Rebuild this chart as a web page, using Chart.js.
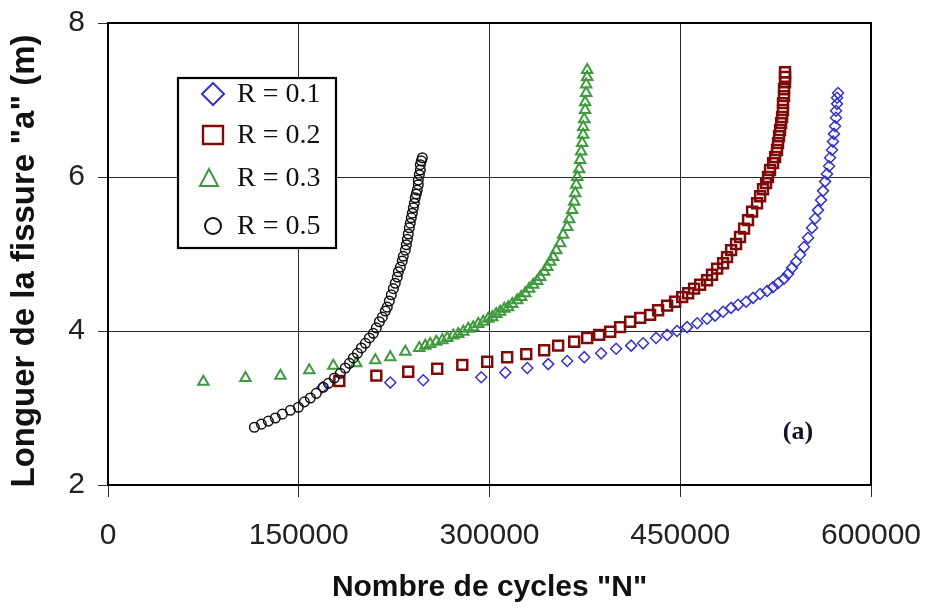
<!DOCTYPE html>
<html>
<head>
<meta charset="utf-8">
<script src="https://cdn.jsdelivr.net/npm/chart.js@4.4.1/dist/chart.umd.min.js"></script>
<style>
  html, body { margin: 0; padding: 0; background: #fff; }
  #c { display: block; }
</style>
</head>
<body>
<canvas id="c" width="926" height="608"></canvas>
<script>
// Crack length a (m) versus number of cycles N for four load ratios R
const seriesLabels = ['R = 0.1', 'R = 0.2', 'R = 0.3', 'R = 0.5'];

const r01N = [168600, 222000, 247900, 293500, 312400, 329700, 346200, 361100, 374500, 387800,
  399600, 411400, 420800, 431000, 439700, 447500, 455400, 463300, 471100, 477400,
  483700, 490000, 495500, 501800, 507300, 512800, 518300, 523000, 526900, 531600,
  534800, 537900, 541100, 544200, 547300, 550500, 553600, 556000, 558300, 560700,
  562300, 563900, 565400, 567000, 567800, 569300, 570100, 570900, 571700, 572500,
  572500, 573300, 573300, 574100];
const r01A = [3.27, 3.33, 3.36, 3.40, 3.46, 3.52, 3.57, 3.61, 3.66, 3.71,
  3.77, 3.81, 3.84, 3.91, 3.95, 4.00, 4.05, 4.10, 4.16, 4.20,
  4.25, 4.30, 4.34, 4.38, 4.43, 4.48, 4.52, 4.57, 4.62, 4.68,
  4.74, 4.82, 4.90, 4.99, 5.09, 5.21, 5.34, 5.46, 5.57, 5.70,
  5.82, 5.94, 6.04, 6.14, 6.25, 6.35, 6.46, 6.56, 6.66, 6.77,
  6.86, 6.95, 7.03, 7.09];

const r02N = [181900, 211000, 236100, 258900, 278600, 298200, 313900, 328900, 343000, 354000,
  366600, 376800, 386200, 394900, 402700, 410600, 418500, 426300, 432600, 439700,
  446000, 451500, 456200, 460900, 465600, 471100, 475000, 479000, 483700, 486800,
  490000, 493900, 497000, 500200, 503300, 506500, 510400, 512800, 515100, 517500,
  519000, 520600, 523000, 524600, 526100, 526900, 527700, 528500, 529300, 530100,
  530800, 530800, 531600, 531600, 532400, 532400, 532400];
const r02A = [3.35, 3.42, 3.47, 3.51, 3.56, 3.60, 3.66, 3.70, 3.75, 3.81,
  3.86, 3.91, 3.95, 3.99, 4.05, 4.12, 4.17, 4.21, 4.27, 4.33,
  4.38, 4.44, 4.49, 4.55, 4.60, 4.66, 4.73, 4.81, 4.88, 4.96,
  5.05, 5.13, 5.22, 5.33, 5.44, 5.55, 5.66, 5.75, 5.84, 5.92,
  6.00, 6.09, 6.18, 6.26, 6.35, 6.44, 6.53, 6.61, 6.70, 6.78,
  6.87, 6.96, 7.05, 7.14, 7.23, 7.30, 7.36];

const r03N = [75000, 108100, 135600, 158300, 177200, 195300, 210200, 222000, 233800, 244800,
  249500, 253400, 258200, 262900, 266800, 271500, 275400, 279400, 283300, 287200,
  291200, 295100, 299000, 302200, 305300, 308400, 311600, 314700, 317900, 321800,
  324900, 328100, 331200, 334400, 337500, 339900, 343000, 345400, 347700, 350100,
  352500, 355600, 357900, 361100, 362700, 365000, 366600, 367400, 368200, 369000,
  370500, 371300, 372100, 372900, 373700, 373700, 374500, 375200, 375200, 376000,
  376000, 376800, 376800];
const r03A = [3.34, 3.39, 3.42, 3.49, 3.55, 3.58, 3.62, 3.66, 3.73, 3.78,
  3.81, 3.83, 3.86, 3.88, 3.91, 3.94, 3.96, 3.99, 4.03, 4.05,
  4.09, 4.12, 4.16, 4.18, 4.22, 4.25, 4.29, 4.31, 4.35, 4.40,
  4.44, 4.49, 4.55, 4.60, 4.65, 4.70, 4.77, 4.83, 4.90, 4.96,
  5.05, 5.14, 5.25, 5.35, 5.45, 5.57, 5.68, 5.79, 5.90, 6.00,
  6.10, 6.22, 6.33, 6.44, 6.55, 6.65, 6.75, 6.87, 6.97, 7.09,
  7.20, 7.30, 7.39];

const r05N = [115100, 120600, 126100, 131600, 137100, 143400, 149700, 154400, 159100, 163800,
  169300, 173300, 178000, 182700, 186600, 189800, 192900, 196100, 199200, 202400,
  205500, 208600, 211000, 213400, 215700, 218100, 219600, 221200, 222800, 224400,
  225900, 227500, 228300, 229900, 231400, 232200, 233800, 234600, 235400, 236100,
  236900, 237700, 238500, 239300, 240100, 240900, 241600, 242400, 243200, 244000,
  244000, 244800, 245600, 245600, 246400, 247200];
const r05A = [2.75, 2.79, 2.83, 2.87, 2.92, 2.97, 3.01, 3.08, 3.13, 3.19,
  3.27, 3.32, 3.39, 3.45, 3.52, 3.58, 3.65, 3.71, 3.78, 3.84,
  3.91, 3.97, 4.04, 4.12, 4.18, 4.26, 4.31, 4.39, 4.47, 4.55,
  4.62, 4.70, 4.77, 4.83, 4.91, 4.97, 5.05, 5.12, 5.19, 5.26,
  5.34, 5.40, 5.47, 5.53, 5.60, 5.66, 5.73, 5.78, 5.83, 5.90,
  5.96, 6.03, 6.09, 6.16, 6.21, 6.25];

const xTicks = [0, 150000, 300000, 450000, 600000];
const yTicks = [2, 4, 6, 8];

const xTitle = 'Nombre de cycles "N"';
const yTitle = 'Longuer de la fissure "a" (m)';
const panelTag = '(a)';

const toPoints = (ns, as) => ns.map((n, i) => ({ x: n, y: as[i] }));

const styles = [
  { color: '#3434c8', pointStyle: 'rectRot', radius: 5.5, width: 1.5 },
  { color: '#7e0a0a', pointStyle: 'rect', radius: 7, width: 2.5 },
  { color: '#3f9a3f', pointStyle: 'triangle', radius: 6, width: 2 },
  { color: '#111111', pointStyle: 'circle', radius: 4.8, width: 1.5 }
];
const seriesData = [
  toPoints(r01N, r01A),
  toPoints(r02N, r02A),
  toPoints(r03N, r03A),
  toPoints(r05N, r05A)
];

const datasets = seriesData.map((pts, i) => ({
  label: seriesLabels[i],
  data: pts,
  showLine: false,
  pointStyle: styles[i].pointStyle,
  pointRadius: styles[i].radius,
  pointBorderWidth: styles[i].width,
  pointBorderColor: styles[i].color,
  pointBackgroundColor: 'rgba(255,255,255,0)',
  order: 4 - i
}));

const sansFamily = '"Liberation Sans", Arial, sans-serif';

// Frame, vertical axis title, boxed legend and panel tag
const decorPlugin = {
  id: 'decor',
  afterDatasetsDraw(chart) {
    const ctx = chart.ctx;
    const a = chart.chartArea;
    ctx.save();
    ctx.strokeStyle = '#000';
    ctx.lineWidth = 2;
    ctx.strokeRect(a.left, a.top, a.right - a.left, a.bottom - a.top);

    // vertical axis title
    ctx.save();
    ctx.translate(25, 261);
    ctx.rotate(-Math.PI / 2);
    ctx.fillStyle = '#111';
    ctx.font = 'bold 33px ' + sansFamily;
    ctx.textAlign = 'center';
    ctx.textBaseline = 'middle';
    ctx.fillText(yTitle, 0, 0);
    ctx.restore();

    // legend box
    const bx = 178, by = 78, bw = 158, bh = 170;
    ctx.fillStyle = '#fff';
    ctx.fillRect(bx, by, bw, bh);
    ctx.lineWidth = 2.2;
    ctx.strokeStyle = '#000';
    ctx.strokeRect(bx, by, bw, bh);

    const rows = [94, 135, 178, 226];
    chart.data.datasets.forEach((ds, i) => {
      const y = rows[i];
      const mx = 213;
      ctx.strokeStyle = styles[i].color;
      ctx.lineWidth = 2;
      ctx.beginPath();
      if (ds.pointStyle === 'rectRot') {
        ctx.moveTo(mx - 11, y); ctx.lineTo(mx, y - 11);
        ctx.lineTo(mx + 11, y); ctx.lineTo(mx, y + 11); ctx.closePath();
      } else if (ds.pointStyle === 'rect') {
        ctx.lineWidth = 2.4;
        ctx.rect(mx - 10, y - 9, 20, 18);
      } else if (ds.pointStyle === 'triangle') {
        ctx.moveTo(mx - 4, y - 9); ctx.lineTo(mx + 5, y + 8);
        ctx.lineTo(mx - 13, y + 8); ctx.closePath();
      } else {
        ctx.arc(mx, y, 8, 0, Math.PI * 2);
      }
      ctx.stroke();

      ctx.fillStyle = '#111';
      ctx.font = '28px "Liberation Serif", "DejaVu Serif", serif';
      ctx.textBaseline = 'middle';
      ctx.textAlign = 'left';
      ctx.fillText(ds.label, 237, y + 1);
    });

    ctx.fillStyle = '#141428';
    ctx.font = 'bold 26px "Liberation Serif", serif';
    ctx.textAlign = 'center';
    ctx.textBaseline = 'middle';
    ctx.fillText(panelTag, 798, 432);
    ctx.restore();
  }
};

new Chart(document.getElementById('c'), {
  type: 'scatter',
  data: { datasets },
  options: {
    responsive: false,
    animation: false,
    devicePixelRatio: 1,
    layout: { padding: { left: 0, right: 55, top: 23, bottom: 0 } },
    plugins: { legend: { display: false }, tooltip: { enabled: false } },
    scales: {
      x: {
        type: 'linear',
        min: 0, max: 600000,
        afterBuildTicks: s => { s.ticks = xTicks.map(v => ({ value: v })); },
        afterFit: s => { s.height = 123; s.paddingLeft = 0; s.paddingRight = 0; },
        grid: { color: '#2b2b2b', lineWidth: 1, tickLength: 12, drawTicks: true },
        border: { display: false },
        ticks: {
          color: '#222', padding: 21, maxRotation: 0, autoSkip: false,
          font: { family: sansFamily, size: 30 },
          callback: v => String(v)
        },
        title: {
          display: true, text: xTitle, color: '#111',
          font: { family: sansFamily, size: 30, weight: 'bold' },
          padding: { top: 0, bottom: 2 }
        }
      },
      y: {
        type: 'linear',
        min: 2, max: 8,
        afterBuildTicks: s => { s.ticks = yTicks.map(v => ({ value: v })); },
        afterFit: s => { s.width = 108; s.paddingTop = 0; s.paddingBottom = 0; },
        grid: { color: '#2b2b2b', lineWidth: 1, tickLength: 10, drawTicks: true },
        border: { display: false },
        ticks: {
          color: '#222', padding: 13,
          font: { family: sansFamily, size: 30 },
          callback: v => String(v)
        },
        title: { display: false }
      }
    }
  },
  plugins: [decorPlugin]
});
</script>
</body>
</html>
